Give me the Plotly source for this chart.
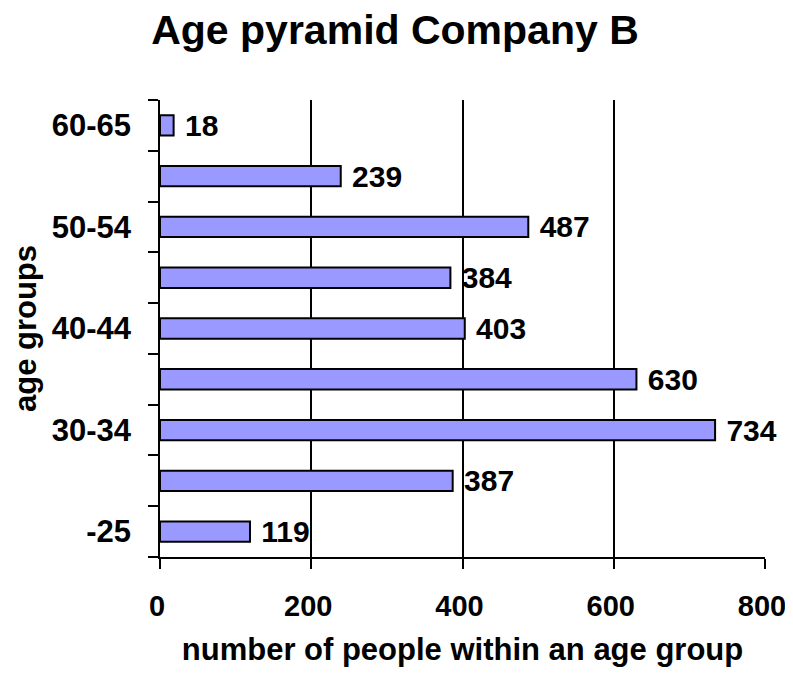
import plotly.graph_objects as go

categories = ["-25", "25-29", "30-34", "35-39", "40-44", "45-49", "50-54", "55-59", "60-65"]
values = [119, 387, 734, 630, 403, 384, 487, 239, 18]
shown_labels = ["-25", "30-34", "40-44", "50-54", "60-65"]
x_ticks = [0, 200, 400, 600, 800]

FONT = "Liberation Sans, Arial, sans-serif"
pos = list(range(len(categories)))
label_pos = [categories.index(c) for c in shown_labels]
bounds = [p - 0.5 for p in pos] + [pos[-1] + 0.5]

W, H = 785, 661

fig = go.Figure()
fig.add_trace(go.Bar(
    x=values, y=pos, orientation="h", width=0.4,
    marker=dict(color="#9999FF", line=dict(color="black", width=2)),
    text=["\u00a0" + str(v) for v in values], textposition="outside", constraintext="none",
    textfont=dict(family=FONT, size=30, color="black", weight="bold"),
    cliponaxis=False, showlegend=False,
))

fig.update_layout(
    width=W, height=H,
    margin=dict(l=152, r=28, t=92, b=112, autoexpand=False),
    paper_bgcolor="white", plot_bgcolor="white",
    title=dict(text="Age pyramid Company B", x=387 / W, xref="container", xanchor="center",
               y=1 - 22 / H, yref="container", yanchor="middle",
               font=dict(family=FONT, size=41, color="black", weight="bold")),
    xaxis=dict(range=[0, 800], tickvals=x_ticks, showgrid=True, gridcolor="black", gridwidth=2,
               showline=True, linecolor="black", linewidth=2, zeroline=False, automargin=False,
               ticks="outside", ticklen=10, tickwidth=2, tickcolor="black",
               ticklabelstandoff=12, ticklabeloverflow="allow", ticklabelshift=-3,
               tickfont=dict(family=FONT, size=29, color="black", weight="bold"),
               title=dict(text="number of people within an age group", standoff=18,
                          font=dict(family=FONT, size=31, color="black", weight="bold"))),
    yaxis=dict(range=[-0.5, len(categories) - 0.5], tickvals=bounds, ticktext=[""] * len(bounds),
               showgrid=False, zeroline=False, showline=True, linecolor="black", linewidth=2,
               automargin=False,
               ticks="outside", ticklen=10, tickwidth=2, tickcolor="black"),
    yaxis2=dict(overlaying="y", side="left", range=[-0.5, len(categories) - 0.5],
                tickvals=label_pos, ticktext=shown_labels, ticks="", showgrid=False,
                zeroline=False, showline=False, ticklabelstandoff=28, automargin=False,
                ticklabeloverflow="allow",
                tickfont=dict(family=FONT, size=31, color="black", weight="bold"),
                title=dict(text="age groups", standoff=12,
                           font=dict(family=FONT, size=31, color="black", weight="bold"))),
)
fig.add_trace(go.Scatter(x=[None], y=[None], yaxis="y2", showlegend=False, hoverinfo="skip"))

fig.write_html("out.html")
